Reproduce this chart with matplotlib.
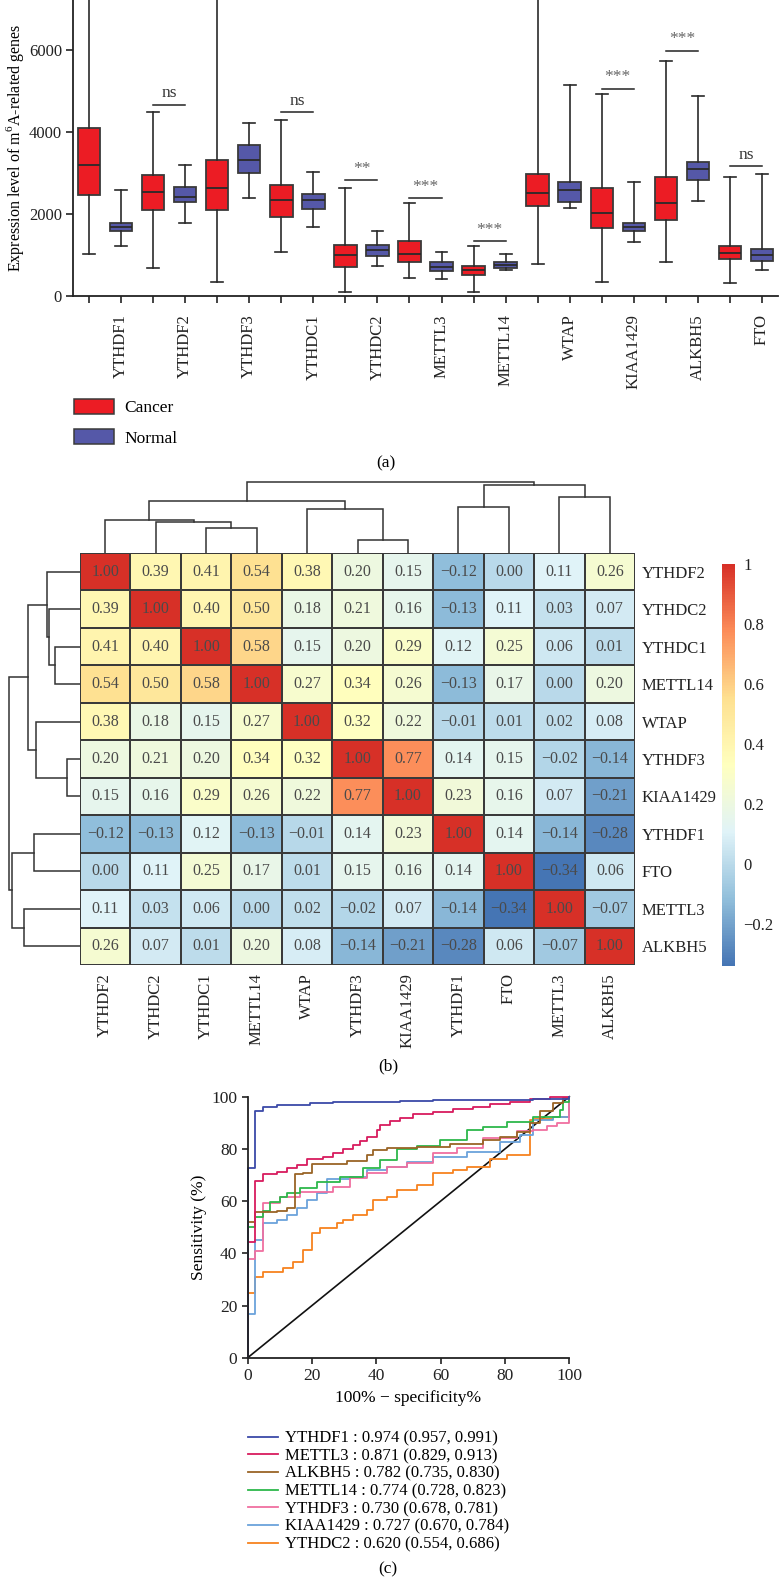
import numpy as np
import matplotlib
matplotlib.use("Agg")
import matplotlib.pyplot as plt
from matplotlib.patches import Patch
from matplotlib.lines import Line2D
from matplotlib.colors import LinearSegmentedColormap, Normalize

plt.rcParams['font.family'] = ['Liberation Serif', 'DejaVu Serif']
plt.rcParams['font.size'] = 11.5
plt.rcParams['axes.unicode_minus'] = True

# ---------------- Panel (a) data ----------------
genes_a = ['YTHDF1', 'YTHDF2', 'YTHDF3', 'YTHDC1', 'YTHDC2', 'METTL3',
           'METTL14', 'WTAP', 'KIAA1429', 'ALKBH5', 'FTO']
cancer_whislo = [1030, 685, 335, 1065, 100, 440, 90, 775, 335, 830, 315]
cancer_q1 = [2475, 2110, 2100, 1930, 715, 825, 515, 2185, 1660, 1850, 895]
cancer_med = [3185, 2530, 2635, 2330, 995, 1025, 630, 2515, 2035, 2265, 1060]
cancer_q3 = [4110, 2955, 3320, 2720, 1240, 1330, 740, 2970, 2625, 2905, 1220]
cancer_whishi = [9500, 4480, 9500, 4305, 2635, 2280, 1215, 9500, 4925, 5740, 2915]

normal_whislo = [1215, 1790, 2380, 1695, 735, 415, 630, 2150, 1310, 2315, 645]
normal_q1 = [1585, 2295, 2995, 2125, 985, 620, 695, 2295, 1585, 2825, 865]
normal_med = [1685, 2425, 3315, 2335, 1125, 700, 765, 2580, 1695, 3100, 1000]
normal_q3 = [1775, 2670, 3680, 2500, 1240, 825, 825, 2785, 1790, 3270, 1140]
normal_whishi = [2575, 3200, 4215, 3020, 1595, 1085, 1025, 5155, 2785, 4885, 2965]

sig_genes = ['YTHDF2', 'YTHDC1', 'YTHDC2', 'METTL3', 'METTL14', 'KIAA1429', 'ALKBH5', 'FTO']
sig_labels = ['ns', 'ns', '**', '***', '***', '***', '***', 'ns']
sig_y = [4660, 4480, 2820, 2380, 1330, 5050, 5985, 3165]

# ---------------- Panel (b) data ----------------
genes_b = ['YTHDF2', 'YTHDC2', 'YTHDC1', 'METTL14', 'WTAP', 'YTHDF3',
           'KIAA1429', 'YTHDF1', 'FTO', 'METTL3', 'ALKBH5']
corr = [
    [1.00, 0.39, 0.41, 0.54, 0.38, 0.20, 0.15, -0.12, 0.00, 0.11, 0.26],
    [0.39, 1.00, 0.40, 0.50, 0.18, 0.21, 0.16, -0.13, 0.11, 0.03, 0.07],
    [0.41, 0.40, 1.00, 0.58, 0.15, 0.20, 0.29, 0.12, 0.25, 0.06, 0.01],
    [0.54, 0.50, 0.58, 1.00, 0.27, 0.34, 0.26, -0.13, 0.17, 0.00, 0.20],
    [0.38, 0.18, 0.15, 0.27, 1.00, 0.32, 0.22, -0.01, 0.01, 0.02, 0.08],
    [0.20, 0.21, 0.20, 0.34, 0.32, 1.00, 0.77, 0.14, 0.15, -0.02, -0.14],
    [0.15, 0.16, 0.29, 0.26, 0.22, 0.77, 1.00, 0.23, 0.16, 0.07, -0.21],
    [-0.12, -0.13, 0.12, -0.13, -0.01, 0.14, 0.23, 1.00, 0.14, -0.14, -0.28],
    [0.00, 0.11, 0.25, 0.17, 0.01, 0.15, 0.16, 0.14, 1.00, -0.34, 0.06],
    [0.11, 0.03, 0.06, 0.00, 0.02, -0.02, 0.07, -0.14, -0.34, 1.00, -0.07],
    [0.26, 0.07, 0.01, 0.20, 0.08, -0.14, -0.21, -0.28, 0.06, -0.07, 1.00],
]
# hierarchical merges (child_a, child_b, height); leaves 0..10 in display order
merge_a = [2, 1, 0, 5, 4, 13, 7, 9, 17, 16]
merge_b = [3, 11, 12, 6, 14, 15, 8, 10, 18, 19]
merge_h = [25.0, 30.8, 33.3, 13.2, 44.0, 51.8, 46.3, 55.8, 67.6, 70.6]

# ---------------- Panel (c) data ----------------
roc_names = ['YTHDF1', 'METTL3', 'ALKBH5', 'METTL14', 'YTHDF3', 'KIAA1429', 'YTHDC2']
roc_auc = ['0.974 (0.957, 0.991)', '0.871 (0.829, 0.913)', '0.782 (0.735, 0.830)',
           '0.774 (0.728, 0.823)', '0.730 (0.678, 0.781)', '0.727 (0.670, 0.784)',
           '0.620 (0.554, 0.686)']
fpr_YTHDF1 = [0, 0, 2.3, 4.9, 9.0, 19.4, 26.6, 47.4, 57.7, 88.8, 100]
tpr_YTHDF1 = [0, 72.7, 94.6, 95.9, 96.8, 97.7, 98.1, 98.5, 98.7, 99.1, 100]
fpr_METTL3 = [0, 0, 2.3, 4.9, 9.0, 12.1, 15.2, 18.3, 23.5, 26.6, 29.7, 32.8, 34.9, 37.0,
              40.1, 41.1, 44.2, 47.4, 51.5, 57.7, 63.9, 70.2, 75.3, 81.6, 87.8, 94.0, 100]
tpr_METTL3 = [0, 44.4, 67.8, 70.4, 71.1, 72.5, 73.8, 76.1, 77.0, 78.3, 79.8, 81.5, 83.1, 84.7,
              87.2, 89.1, 90.8, 91.7, 93.4, 94.3, 95.1, 96.2, 97.1, 98.1, 99.0, 100, 100]
fpr_ALKBH5 = [0, 0, 2.3, 9.0, 12.1, 14.7, 17.3, 19.9, 30.8, 37.0, 39.1, 43.2, 52.5, 62.9,
              73.3, 78.4, 83.6, 87.8, 90.9, 95.0, 98.1, 100]
tpr_ALKBH5 = [0, 52.1, 55.9, 56.3, 57.2, 70.2, 70.9, 74.2, 75.5, 77.7, 79.6, 80.3, 80.6, 81.9,
              83.4, 84.7, 86.6, 89.8, 94.6, 97.4, 99.4, 100]
fpr_METTL14 = [0, 0, 2.3, 4.9, 6.9, 10.1, 12.1, 16.3, 21.5, 28.7, 36.0, 41.1, 46.3, 52.5,
               59.8, 68.1, 73.3, 80.5, 88.8, 97.1, 98.1, 100]
tpr_METTL14 = [0, 50.2, 54.0, 56.3, 59.5, 61.7, 63.0, 65.1, 67.4, 69.3, 72.5, 75.7, 79.8, 81.1,
               83.4, 87.2, 88.5, 90.4, 92.3, 94.9, 98.1, 100]
fpr_YTHDF3 = [0, 0, 2.3, 4.9, 10.1, 16.3, 26.6, 31.8, 37.0, 43.2, 49.4, 57.7, 65.0, 73.3,
              83.6, 88.8, 93.0, 96.1, 100, 100]
tpr_YTHDF3 = [0, 38.0, 41.0, 59.1, 61.7, 63.6, 65.5, 68.7, 70.6, 73.2, 74.5, 78.3, 80.2, 84.0,
              87.0, 87.2, 88.8, 89.8, 92.3, 100]
fpr_KIAA1429 = [0, 0, 2.3, 4.9, 9.0, 12.1, 15.2, 18.3, 21.5, 24.6, 31.8, 37.0, 43.2, 49.4,
                57.7, 68.1, 78.4, 84.7, 88.8, 95.0, 100, 100]
tpr_KIAA1429 = [0, 16.7, 45.0, 51.5, 52.7, 54.7, 57.2, 60.4, 63.0, 68.3, 69.3, 71.9, 73.2, 75.1,
                77.0, 78.9, 82.8, 85.3, 91.0, 92.3, 93.0, 100]
fpr_YTHDC2 = [0, 0, 2.3, 4.9, 11.1, 14.2, 17.3, 19.9, 22.5, 27.7, 29.7, 32.8, 37.0, 39.1,
              43.2, 46.3, 52.5, 57.7, 63.9, 68.1, 75.3, 80.5, 87.8, 88.8, 95.0, 100, 100]
tpr_YTHDC2 = [0, 24.9, 31.0, 33.0, 34.2, 36.8, 41.3, 47.9, 49.6, 51.5, 52.7, 54.7, 56.6, 60.4,
              61.7, 64.2, 66.2, 70.6, 71.9, 73.2, 76.2, 77.5, 91.0, 91.5, 92.3, 93.0, 100]
roc_fpr = [fpr_YTHDF1, fpr_METTL3, fpr_ALKBH5, fpr_METTL14, fpr_YTHDF3, fpr_KIAA1429, fpr_YTHDC2]
roc_tpr = [tpr_YTHDF1, tpr_METTL3, tpr_ALKBH5, tpr_METTL14, tpr_YTHDF3, tpr_KIAA1429, tpr_YTHDC2]
roc_colors = ['#3C4AA8', '#D81B5E', '#9A6526', '#2DB84B', '#F070A0', '#6BA2DB', '#F7821F']

# ---------------- Figure ----------------
W, H = 780, 1577
fig = plt.figure(figsize=(W / 100, H / 100), dpi=100)


def rect(l, t, r, b):
    return [l / W, 1 - b / H, (r - l) / W, (b - t) / H]


# ---------------- Panel (a) ----------------
red = '#EC1C24'
blue = '#5558A8'
edge = '#3a3a3a'
ax = fig.add_axes(rect(73, 0, 778, 296))
stats, colors = [], []
for i in range(len(genes_a)):
    stats.append(dict(med=cancer_med[i], q1=cancer_q1[i], q3=cancer_q3[i],
                      whislo=cancer_whislo[i], whishi=cancer_whishi[i], fliers=[]))
    colors.append(red)
    stats.append(dict(med=normal_med[i], q1=normal_q1[i], q3=normal_q3[i],
                      whislo=normal_whislo[i], whishi=normal_whishi[i], fliers=[]))
    colors.append(blue)
positions = np.arange(len(stats))
bp = ax.bxp(stats, positions=positions, widths=0.7, patch_artist=True, showfliers=False,
            boxprops=dict(edgecolor=edge, linewidth=1.3),
            medianprops=dict(color='#2a2a2a', linewidth=1.3),
            whiskerprops=dict(color='#2a2a2a', linewidth=1.2),
            capprops=dict(color='#2a2a2a', linewidth=1.2), capwidths=0.37)
for patch, c in zip(bp['boxes'], colors):
    patch.set_facecolor(c)
ax.set_xlim(-0.5, 21.5)
ax.set_ylim(0, 7221)
ax.set_yticks([0, 2000, 4000, 6000])
ax.set_xticks(positions)
xl = []
for g in genes_a:
    xl += ['', g]
ax.set_xticklabels(xl, rotation=90, va='top', ha='center', fontsize=12)
ax.tick_params(axis='x', length=5, width=1.2, pad=8, direction='out', colors='#222')
ax.tick_params(axis='y', length=5, width=1.2, pad=3, direction='out', colors='#222',
               labelsize=12)
for s in ['top', 'right']:
    ax.spines[s].set_visible(False)
for s in ['left', 'bottom']:
    ax.spines[s].set_linewidth(1.3)
    ax.spines[s].set_color('#222')
ax.set_ylabel(r'Expression level of m$^{\mathregular{6}}$A-related genes', fontsize=11.5,
              labelpad=2)
for g, lab, y in zip(sig_genes, sig_labels, sig_y):
    i = genes_a.index(g)
    ax.plot([2 * i, 2 * i + 1], [y, y], color='#222', lw=1.1, clip_on=False)
    col = '#333' if lab == 'ns' else '#666'
    ax.text(2 * i + 0.5, y + 90, lab, ha='center', va='bottom', fontsize=12.5, color=col)

fig.legend(handles=[Patch(facecolor=red, edgecolor=edge, lw=1.1, label='Cancer'),
                    Patch(facecolor=blue, edgecolor=edge, lw=1.1, label='Normal')],
           loc='upper left', bbox_to_anchor=(58 / W, 1 - 383 / H), frameon=False,
           handlelength=2.35, handleheight=0.95, labelspacing=0.75, handletextpad=0.55,
           fontsize=12.5)
fig.text(386 / W, 1 - 463 / H, '(a)', ha='center', va='center', fontsize=12.5)

# ---------------- Panel (b) ----------------
cmap = LinearSegmentedColormap.from_list(
    'pheat', ['#4575B4', '#91BFDB', '#E0F3F8', '#FFFFBF', '#FEE090', '#FC8D59', '#D73027'])
norm = Normalize(vmin=-0.34, vmax=1.0)
C = np.array(corr)
n = len(genes_b)
axh = fig.add_axes(rect(80, 553, 635, 965))
mesh = axh.pcolormesh(np.arange(n + 1), np.arange(n + 1), C, cmap=cmap, norm=norm,
                      edgecolors='#3a3a3a', linewidth=1.1)
axh.set_xlim(0, n)
axh.set_ylim(n, 0)
for i in range(n):
    for j in range(n):
        axh.text(j + 0.5, i + 0.5, f'{C[i, j]:.2f}'.replace('-', '\u2212'),
                 ha='center', va='center', fontsize=11.5, color='#4a4a4a')
axh.set_xticks(np.arange(n) + 0.5)
axh.set_xticklabels(genes_b, rotation=90, va='top', ha='center', fontsize=12)
axh.set_yticks(np.arange(n) + 0.5)
axh.set_yticklabels(genes_b, fontsize=12)
axh.yaxis.tick_right()
axh.tick_params(axis='both', length=0, colors='#222')
axh.tick_params(axis='x', pad=6)
axh.tick_params(axis='y', pad=5)
for s in axh.spines.values():
    s.set_visible(False)

cax = fig.add_axes(rect(722, 564, 735, 966))
cb = fig.colorbar(mesh, cax=cax)
cb.outline.set_visible(False)
cb.set_ticks([-0.2, 0, 0.2, 0.4, 0.6, 0.8, 1.0])
cb.set_ticklabels(['\u22120.2', '0', '0.2', '0.4', '0.6', '0.8', '1'])
cb.ax.tick_params(length=0, pad=6, colors='#222', labelsize=12)


def draw_dendro(axd, top):
    pos = {i: i + 0.5 for i in range(n)}
    hgt = {i: 0.0 for i in range(n)}
    for k, (a, b, h) in enumerate(zip(merge_a, merge_b, merge_h)):
        xa, xb, ha, hb = pos[a], pos[b], hgt[a], hgt[b]
        xs = [xa, xa, xb, xb]
        ys = [ha, h, h, hb]
        if top:
            axd.plot(xs, ys, color='#333', lw=1.1, solid_joinstyle='miter')
        else:
            axd.plot(ys, xs, color='#333', lw=1.1, solid_joinstyle='miter')
        pos[n + k] = (xa + xb) / 2
        hgt[n + k] = h
    axd.axis('off')


axt = fig.add_axes(rect(80, 478, 635, 553))
draw_dendro(axt, True)
axt.set_xlim(0, n)
axt.set_ylim(0, 75)
axl = fig.add_axes(rect(5, 553, 80, 965))
draw_dendro(axl, False)
axl.set_xlim(75, 0)
axl.set_ylim(n, 0)

fig.text(388 / W, 1 - 1066 / H, '(b)', ha='center', va='center', fontsize=12.5)

# ---------------- Panel (c) ----------------
axc = fig.add_axes(rect(247.7, 1096.7, 569.3, 1357.7))
axc.plot([0, 100], [0, 100], color='#111', lw=1.2, clip_on=False)
handles = []
for k in range(len(roc_names) - 1, -1, -1):
    axc.plot(roc_fpr[k], roc_tpr[k], drawstyle='steps-post', color=roc_colors[k],
             lw=1.3, clip_on=False)
for k in range(len(roc_names)):
    handles.append(Line2D([], [], color=roc_colors[k], lw=1.3,
                          label=f'{roc_names[k]} : {roc_auc[k]}'))
axc.set_xlim(0, 100)
axc.set_ylim(0, 100)
axc.set_xticks(range(0, 101, 20))
axc.set_yticks(range(0, 101, 20))
axc.tick_params(length=4, width=1.2, direction='out', colors='#222', labelsize=12.5)
for s in ['top', 'right']:
    axc.spines[s].set_visible(False)
for s in ['left', 'bottom']:
    axc.spines[s].set_linewidth(1.3)
    axc.spines[s].set_color('#222')
axc.set_xlabel('100% \u2212 specificity%', fontsize=12.5, labelpad=4)
axc.set_ylabel('Sensitivity (%)', fontsize=12.5, labelpad=3)
fig.legend(handles=handles, loc='upper left', bbox_to_anchor=(240 / W, 1 - 1422 / H),
           frameon=False, handlelength=1.75, handletextpad=0.45, labelspacing=0.1,
           fontsize=12, borderpad=0)
fig.text(388 / W, 1 - 1569 / H, '(c)', ha='center', va='center', fontsize=12.5)

fig.savefig('out.png', dpi=100)
